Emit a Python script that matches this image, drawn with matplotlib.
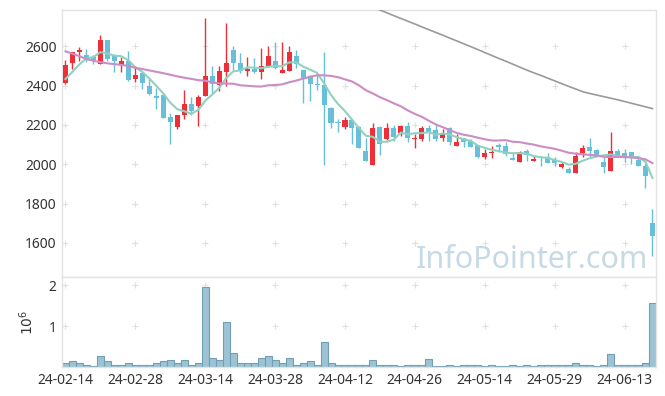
import numpy as np
import pandas as pd
import matplotlib
matplotlib.use("Agg")
import matplotlib.pyplot as plt
from matplotlib.ticker import FuncFormatter

# trading days (KRX holidays removed)
holidays = ["2024-03-01", "2024-04-10", "2024-05-01", "2024-05-06", "2024-05-15", "2024-06-06"]
dates = pd.bdate_range("2024-02-14", "2024-06-19", freq="C", holidays=holidays)

opens = [2415, 2513, 2572, 2556, 2547, 2512, 2630, 2556, 2505, 2525,
         2434, 2466, 2398, 2347, 2352, 2242, 2191, 2251, 2305, 2296,
         2349, 2449, 2405, 2470, 2581, 2513, 2476, 2484, 2470, 2500,
         2525, 2466, 2476, 2550, 2479, 2449, 2406, 2403, 2287, 2215,
         2191, 2225, 2191, 2068, 1996, 2191, 2127, 2186, 2161, 2195,
         2127, 2127, 2186, 2174, 2135, 2186, 2095, 2132, 2120, 2098,
         2037, 2056, 2098, 2093, 2034, 2012, 2068, 2018, 2024, 2039,
         2022, 1988, 1975, 1957, 2059, 2090, 2073, 2013, 1968, 2068,
         2056, 2062, 2022, 1991, 1702]
highs = [2530, 2570, 2595, 2585, 2556, 2657, 2632, 2560, 2545, 2575,
         2500, 2470, 2435, 2388, 2360, 2262, 2252, 2378, 2340, 2352,
         2742, 2500, 2500, 2717, 2600, 2565, 2547, 2540, 2589, 2602,
         2620, 2620, 2600, 2581, 2481, 2455, 2456, 2572, 2290, 2228,
         2240, 2228, 2195, 2132, 2208, 2195, 2208, 2200, 2200, 2217,
         2152, 2196, 2200, 2198, 2178, 2191, 2152, 2134, 2127, 2100,
         2076, 2095, 2110, 2115, 2064, 2068, 2078, 2040, 2040, 2056,
         2039, 2013, 1988, 2064, 2098, 2132, 2080, 2039, 2166, 2078,
         2076, 2064, 2030, 2008, 1771]
lows = [2410, 2485, 2525, 2520, 2510, 2510, 2527, 2468, 2468, 2422,
        2420, 2381, 2350, 2280, 2235, 2103, 2178, 2230, 2250, 2196,
        2345, 2360, 2370, 2400, 2480, 2465, 2450, 2466, 2432, 2498,
        2486, 2464, 2474, 2488, 2310, 2320, 2380, 1998, 2185, 2163,
        2180, 2103, 2082, 2015, 1994, 2047, 2125, 2120, 2146, 2115,
        2081, 2120, 2116, 2118, 2116, 2098, 2093, 2090, 2086, 2030,
        2027, 2030, 2062, 2044, 2020, 2010, 2018, 2016, 1993, 2005,
        1990, 1980, 1954, 1955, 2039, 2039, 2040, 1954, 1966, 2039,
        2013, 2001, 1990, 1878, 1535]
closes = [2505, 2569, 2581, 2538, 2532, 2630, 2534, 2525, 2525, 2428,
          2454, 2415, 2356, 2339, 2237, 2217, 2250, 2305, 2271, 2340,
          2449, 2408, 2474, 2517, 2513, 2472, 2484, 2470, 2501, 2551,
          2488, 2479, 2569, 2508, 2440, 2407, 2402, 2301, 2211, 2212,
          2225, 2186, 2084, 2017, 2184, 2101, 2186, 2140, 2195, 2135,
          2135, 2186, 2166, 2130, 2161, 2115, 2115, 2115, 2090, 2039,
          2058, 2064, 2086, 2051, 2022, 2060, 2049, 2027, 2020, 2008,
          2005, 2000, 1957, 2042, 2084, 2069, 2045, 1985, 2068, 2047,
          2039, 2042, 1993, 1941, 1637]
volumes = [90000, 140000, 90000, 40000, 20000, 280000, 140000, 60000, 60000, 110000,
           40000, 60000, 60000, 110000, 140000, 160000, 110000, 160000, 60000, 110000,
           1950000, 210000, 160000, 1100000, 350000, 110000, 110000, 110000, 230000, 280000,
           160000, 90000, 210000, 60000, 90000, 140000, 40000, 620000, 110000, 40000,
           40000, 40000, 60000, 40000, 160000, 40000, 60000, 40000, 25000, 40000,
           40000, 40000, 190000, 25000, 25000, 40000, 25000, 40000, 40000, 40000,
           25000, 40000, 25000, 25000, 40000, 25000, 40000, 25000, 40000, 40000,
           40000, 40000, 60000, 110000, 60000, 60000, 25000, 60000, 310000, 40000,
           40000, 60000, 60000, 110000, 1560000]

# moving-average values before enough history is in the window
ma5_head = [2433, 2470, 2508, 2538]
ma20_head = [2574, 2562, 2549, 2535, 2526, 2519, 2513, 2509, 2505, 2500,
             2490, 2484, 2477, 2470, 2463, 2455, 2447, 2440, 2434]
ma60 = [None] * 44 + [2798, 2784, 2770, 2755, 2741, 2727, 2713, 2698, 2684, 2670,
                      2656, 2641, 2627, 2612, 2598, 2583, 2568, 2553, 2538, 2524,
                      2509, 2494, 2479, 2465, 2452, 2438, 2424, 2410, 2396, 2383,
                      2369, 2360, 2352, 2344, 2336, 2328, 2319, 2310, 2301, 2292,
                      2283]

df = pd.DataFrame({"open": opens, "high": highs, "low": lows, "close": closes,
                   "volume": volumes}, index=dates)
ma5 = df["close"].rolling(5).mean().values
ma5[:4] = ma5_head
ma20 = df["close"].rolling(20).mean().values
ma20[:19] = ma20_head
ma60 = np.array([np.nan if v is None else v for v in ma60], dtype=float)

UP = "#ee2f37"
DOWN = "#67bfd9"
GRID = "#e0e0e0"
SPINE = "#e3e3e3"

plt.rcParams["font.family"] = ["Noto Sans", "DejaVu Sans"]
fig = plt.figure(figsize=(6.65, 3.96), dpi=100)
ax = fig.add_axes([0.0932, 0.3005, 0.8932, 0.6742])
axv = fig.add_axes([0.0932, 0.0732, 0.8932, 0.2273], sharex=ax)

x = np.arange(len(df))
up = df["close"] >= df["open"]
colors = np.where(up, UP, DOWN)

# wicks and bodies
ax.vlines(x, df["low"], df["high"], colors=colors, linewidth=1.0, zorder=2)
body_lo = np.minimum(df["open"], df["close"])
body_h = np.maximum(np.abs(df["close"] - df["open"]), 4)
ax.bar(x, body_h, bottom=body_lo, width=0.72, color=colors, linewidth=0, zorder=3)

ax.plot(x, ma5, color="#8fd2bf", linewidth=1.5, zorder=4)
ax.plot(x, ma20, color="#cc8cc6", linewidth=1.5, zorder=4)
ax.plot(x, ma60, color="#9a9a9a", linewidth=1.2, zorder=4)

ax.set_xlim(-0.5, len(df) - 0.5)
ax.set_ylim(1427, 2784)
yt = [1600, 1800, 2000, 2200, 2400, 2600]
ax.set_yticks(yt)
xt = x[::10]
ax.set_xticks(xt)
ax.set_xticklabels([d.strftime("%y-%m-%d") for d in dates[::10]])

# small cross markers in place of grid lines
gx, gy = np.meshgrid(xt, yt)
ax.plot(gx.ravel(), gy.ravel(), "+", color=GRID, markersize=5, mew=0.8, zorder=0)

ax.text(0.987, 0.034, "InfoPointer.com", transform=ax.transAxes, ha="right",
        va="baseline", fontsize=22, fontweight="medium", color="#c6dae5", zorder=1)

# volume
axv.bar(x, df["volume"], width=1.0, color="#9dc3d3", edgecolor="#6e9fb4",
        linewidth=0.8, zorder=2)
axv.set_ylim(0, 2.2e6)
axv.set_yticks([1e6, 2e6])
axv.yaxis.set_major_formatter(FuncFormatter(lambda v, p: f"{v / 1e6:g}"))
axv.set_ylabel(r"$10^6$", fontsize=10, color="#333333", labelpad=8)
gx, gy = np.meshgrid(xt, [1e6, 2e6])
axv.plot(gx.ravel(), gy.ravel(), "+", color=GRID, markersize=5, mew=0.8, zorder=0)

plt.setp(ax.get_xticklabels(), visible=False)
for a in (ax, axv):
    for s in a.spines.values():
        s.set_color(SPINE)
        s.set_linewidth(1.0)
    a.tick_params(length=0, labelsize=10, colors="#333333", pad=4)

fig.savefig("out.png", dpi=100, facecolor="white")
